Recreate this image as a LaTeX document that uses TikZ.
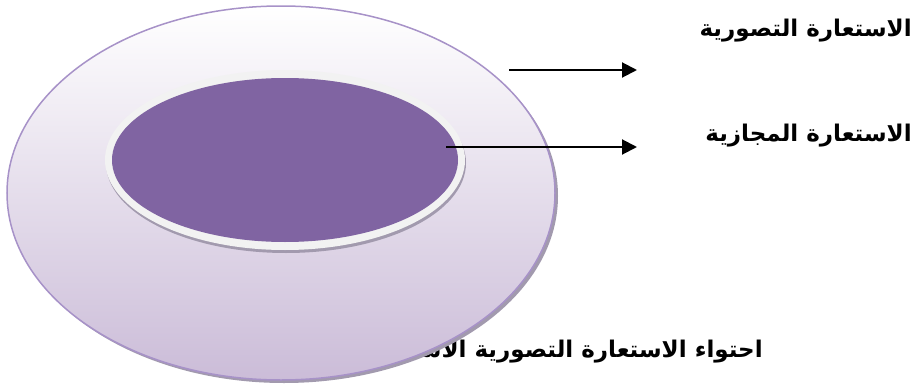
\documentclass[tikz,border=0pt]{standalone}
\usepackage{fontspec}
\usetikzlibrary{arrows.meta}
\TeXXeTstate=1
\newfontfamily\arabicfont[Script=Arabic]{DejaVu Sans}
\definecolor{ringline}{HTML}{A792C8}
\definecolor{purplefill}{HTML}{8064A2}
\definecolor{outerbot}{HTML}{CBBCD8}
\definecolor{shadowgray}{HTML}{A29AAE}
\definecolor{ringwhite}{HTML}{F2F2F2}
\tikzset{
  lbl/.style={anchor=east, inner sep=0pt, font=\arabicfont\bfseries\fontsize{23}{27}\selectfont},
  arr/.style={line width=2pt, -{Triangle[length=15pt,width=15pt]}},
}
\begin{document}
\begin{tikzpicture}[x=1pt,y=-1pt]
\useasboundingbox (0,0) rectangle (916,388);
% bottom caption (partly hidden behind the disc)
\node[lbl] (cap) at (763,352) {\beginR احتواء الاستعارة التصورية الاستعارة المجازية\endR};
% outer disc
\fill[shadowgray] (284,196) ellipse [x radius=274, y radius=187];
\shade[top color=white, bottom color=outerbot, draw=ringline, line width=1.5pt] (281,193) ellipse [x radius=274, y radius=187];
% inner ring and disc
\fill[shadowgray] (286,163) ellipse [x radius=180, y radius=90];
\fill[ringwhite] (285,160) ellipse [x radius=180, y radius=90];
\fill[purplefill] (285,160) ellipse [x radius=173, y radius=82];
% labels
\node[lbl] (l1) at (912,31) {\beginR الاستعارة التصورية\endR};
\node[lbl] (l2) at (912,136) {\beginR الاستعارة المجازية\endR};
% arrows
\coordinate (a1s) at (509,70);
\coordinate (a1e) at (637,70);
\coordinate (a2s) at (446,147);
\coordinate (a2e) at (637,147);
\draw[arr] (a1s) -- (a1e);
\draw[arr] (a2s) -- (a2e);
\end{tikzpicture}
\end{document}
